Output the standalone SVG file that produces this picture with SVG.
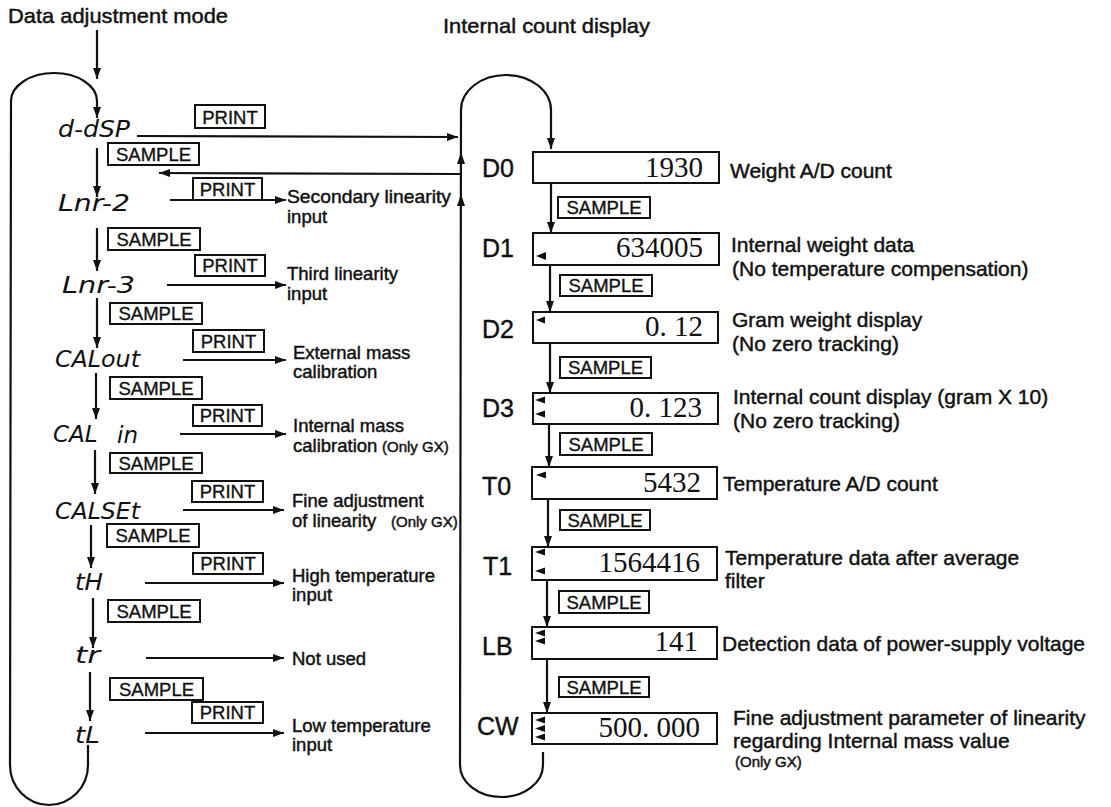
<svg xmlns="http://www.w3.org/2000/svg" width="1111" height="807" viewBox="0 0 1111 807">
<defs>
<style>
.t{font-family:"Liberation Sans",Arial,sans-serif;fill:#111;stroke:#111;stroke-width:0.45}
.ttl{font-size:21px}
.ld{font-size:18.5px}
.rd{font-size:21px}
.sm{font-size:15px}
.seg{font-family:"DejaVu Sans",sans-serif;font-style:italic;font-size:23px;fill:#111}
.lbl{font-family:"Liberation Sans",Arial,sans-serif;font-size:25px;fill:#111;stroke:#111;stroke-width:0.4}
.num{font-family:"Liberation Serif","Times New Roman",serif;font-size:29px;fill:#111;text-anchor:end}
.key{font-family:"Liberation Sans",Arial,sans-serif;font-size:18.5px;fill:#111;stroke:#111;stroke-width:0.35;text-anchor:middle}
.kb{fill:#fff;stroke:#111;stroke-width:2}
.db{fill:#fff;stroke:#111;stroke-width:2}
.ln{fill:none;stroke:#111;stroke-width:2.2}
.ind{fill:#111}
</style>
<marker id="ah" viewBox="0 0 11 8" refX="11" refY="4" markerWidth="11" markerHeight="8" markerUnits="userSpaceOnUse" orient="auto">
<path d="M0,0 L11,4 L0,8 z" fill="#111"/>
</marker>
</defs>
<rect width="1111" height="807" fill="#fff"/>

<!-- titles -->
<text id="title-left" class="t ttl" x="8" y="23" textLength="220" lengthAdjust="spacingAndGlyphs">Data adjustment mode</text>
<text id="title-right" class="t ttl" x="443" y="33" textLength="207" lengthAdjust="spacingAndGlyphs">Internal count display</text>

<!-- connectors -->
<g id="connectors">
<line class="ln" x1="97" y1="30" x2="97" y2="79" marker-end="url(#ah)"/>
<path class="ln" d="M88,745 L88,765 A39,40 0 0 1 10,765 L11,101 A43,28 0 0 1 97,101 L97,118" marker-end="url(#ah)"/>
<line class="ln" x1="97" y1="148" x2="97" y2="197" marker-end="url(#ah)"/>
<line class="ln" x1="97" y1="228" x2="97" y2="271" marker-end="url(#ah)"/>
<line class="ln" x1="97" y1="298" x2="97" y2="348" marker-end="url(#ah)"/>
<line class="ln" x1="96" y1="373" x2="96" y2="419" marker-end="url(#ah)"/>
<line class="ln" x1="95" y1="450" x2="95" y2="494" marker-end="url(#ah)"/>
<line class="ln" x1="91" y1="525" x2="91" y2="568" marker-end="url(#ah)"/>
<line class="ln" x1="93" y1="598" x2="93" y2="648" marker-end="url(#ah)"/>
<line class="ln" x1="90" y1="672" x2="90" y2="721" marker-end="url(#ah)"/>
<line class="ln" x1="137" y1="136" x2="458" y2="137" marker-end="url(#ah)"/>
<line class="ln" x1="461" y1="174" x2="159" y2="173" marker-end="url(#ah)"/>
<line class="ln" x1="170" y1="200" x2="286" y2="200" marker-end="url(#ah)"/>
<line class="ln" x1="167" y1="285" x2="286" y2="285" marker-end="url(#ah)"/>
<line class="ln" x1="183" y1="360" x2="286" y2="360" marker-end="url(#ah)"/>
<line class="ln" x1="180" y1="434" x2="286" y2="434" marker-end="url(#ah)"/>
<line class="ln" x1="183" y1="510" x2="284" y2="510" marker-end="url(#ah)"/>
<line class="ln" x1="145" y1="583" x2="284" y2="583" marker-end="url(#ah)"/>
<line class="ln" x1="146" y1="658" x2="284" y2="658" marker-end="url(#ah)"/>
<line class="ln" x1="145" y1="733" x2="284" y2="733" marker-end="url(#ah)"/>
<path class="ln" d="M543,752 L543,765 A41.5,32 0 0 1 460,765 L461,110 A45,35 0 0 1 551,110 L551,149" marker-end="url(#ah)"/>
<polygon class="ind" points="461,152 457,164 465,164"/>
<polygon class="ind" points="461,194 457,206 465,206"/>
<line class="ln" x1="551" y1="183" x2="551" y2="233" marker-end="url(#ah)"/>
<line class="ln" x1="550" y1="265" x2="550" y2="312" marker-end="url(#ah)"/>
<line class="ln" x1="550" y1="343" x2="550" y2="393" marker-end="url(#ah)"/>
<line class="ln" x1="549" y1="424" x2="549" y2="467" marker-end="url(#ah)"/>
<line class="ln" x1="548" y1="499" x2="548" y2="547" marker-end="url(#ah)"/>
<line class="ln" x1="547" y1="580" x2="547" y2="627" marker-end="url(#ah)"/>
<line class="ln" x1="547" y1="659" x2="547" y2="713" marker-end="url(#ah)"/>
</g>

<!-- key labels (PRINT / SAMPLE) -->
<g id="keys-left">
<rect class="kb" x="195" y="105" width="70" height="23"/><text class="key" x="230" y="124">PRINT</text>
<rect class="kb" x="108" y="143" width="91" height="22"/><text class="key" x="153.5" y="161">SAMPLE</text>
<rect class="kb" x="193" y="178" width="69" height="22"/><text class="key" x="227.5" y="196">PRINT</text>
<rect class="kb" x="108" y="228" width="92" height="22"/><text class="key" x="154" y="246">SAMPLE</text>
<rect class="kb" x="195" y="255" width="70" height="21"/><text class="key" x="230" y="272">PRINT</text>
<rect class="kb" x="110" y="303" width="92" height="21"/><text class="key" x="156" y="320">SAMPLE</text>
<rect class="kb" x="193" y="330" width="71" height="22"/><text class="key" x="228.5" y="348">PRINT</text>
<rect class="kb" x="110" y="377" width="92" height="22"/><text class="key" x="156" y="395">SAMPLE</text>
<rect class="kb" x="193" y="405" width="69" height="21"/><text class="key" x="227.5" y="422">PRINT</text>
<rect class="kb" x="110" y="453" width="92" height="20"/><text class="key" x="156" y="469.5">SAMPLE</text>
<rect class="kb" x="192" y="481" width="71" height="21"/><text class="key" x="227.5" y="498">PRINT</text>
<rect class="kb" x="107" y="524" width="92" height="23"/><text class="key" x="153" y="542">SAMPLE</text>
<rect class="kb" x="193" y="553" width="70" height="21"/><text class="key" x="228" y="570">PRINT</text>
<rect class="kb" x="108" y="600" width="92" height="22"/><text class="key" x="154" y="618">SAMPLE</text>
<rect class="kb" x="110" y="678" width="93" height="22"/><text class="key" x="156.5" y="696">SAMPLE</text>
<rect class="kb" x="192" y="702" width="71" height="21"/><text class="key" x="227.5" y="719">PRINT</text>
</g>
<g id="keys-right">
<rect class="kb" x="558" y="197" width="92" height="21"/><text class="key" x="604" y="214">SAMPLE</text>
<rect class="kb" x="560" y="275" width="92" height="21"/><text class="key" x="606" y="292">SAMPLE</text>
<rect class="kb" x="560" y="357" width="91" height="21"/><text class="key" x="605.5" y="374">SAMPLE</text>
<rect class="kb" x="560" y="433" width="92" height="22"/><text class="key" x="606" y="451">SAMPLE</text>
<rect class="kb" x="560" y="510" width="90" height="20"/><text class="key" x="605" y="526.5">SAMPLE</text>
<rect class="kb" x="559" y="591" width="90" height="22"/><text class="key" x="604" y="609">SAMPLE</text>
<rect class="kb" x="559" y="677" width="90" height="20"/><text class="key" x="604" y="693.5">SAMPLE</text>
</g>

<!-- left mode nodes -->
<g id="node-ddsp"><text class="seg" x="58" y="137" textLength="72" lengthAdjust="spacingAndGlyphs">d-dSP</text></g>
<g id="node-lnr2"><text class="seg" x="58" y="211" textLength="72" lengthAdjust="spacingAndGlyphs">Lnr-2</text></g>
<g id="node-lnr3"><text class="seg" x="62" y="293" textLength="73" lengthAdjust="spacingAndGlyphs">Lnr-3</text></g>
<g id="node-calout"><text class="seg" x="55" y="367" textLength="85" lengthAdjust="spacingAndGlyphs">CALout</text></g>
<g id="node-calin"><text class="seg" x="53" y="442">CAL <tspan x="117" y="443">in</tspan></text></g>
<g id="node-calset"><text class="seg" x="55" y="519" textLength="85" lengthAdjust="spacingAndGlyphs">CALSEt</text></g>
<g id="node-th"><text class="seg" x="75" y="590" textLength="28" lengthAdjust="spacingAndGlyphs">tH</text></g>
<g id="node-tr"><text class="seg" x="75" y="663" textLength="25" lengthAdjust="spacingAndGlyphs">tr</text></g>
<g id="node-tl"><text class="seg" x="75" y="743" textLength="25" lengthAdjust="spacingAndGlyphs">tL</text></g>

<!-- left outputs -->
<g id="out-lnr2"><text class="t ld" x="287" y="203" textLength="164" lengthAdjust="spacingAndGlyphs">Secondary linearity</text><text class="t ld" x="287" y="223">input</text></g>
<g id="out-lnr3"><text class="t ld" x="287" y="280">Third linearity</text><text class="t ld" x="287" y="300">input</text></g>
<g id="out-calout"><text class="t ld" x="293" y="359">External mass</text><text class="t ld" x="293" y="378">calibration</text></g>
<g id="out-calin"><text class="t ld" x="293" y="432">Internal mass</text><text class="t ld" x="293" y="452">calibration <tspan class="sm" x="382">(Only GX)</tspan></text></g>
<g id="out-calset"><text class="t ld" x="292" y="507">Fine adjustment</text><text class="t ld" x="292" y="527">of linearity <tspan class="sm" x="391">(Only GX)</tspan></text></g>
<g id="out-th"><text class="t ld" x="292" y="582">High temperature</text><text class="t ld" x="292" y="601">input</text></g>
<g id="out-tr"><text class="t ld" x="292" y="665">Not used</text></g>
<g id="out-tl"><text class="t ld" x="292" y="732">Low temperature</text><text class="t ld" x="292" y="751">input</text></g>

<!-- right display nodes -->
<g id="node-d0">
<text class="lbl" x="482" y="177">D0</text>
<rect class="db" x="533" y="152" width="186" height="31"/>
<text class="num" x="703" y="177">1930</text>
<text class="t rd" x="730" y="178">Weight A/D count</text>
</g>
<g id="node-d1">
<text class="lbl" x="482" y="257">D1</text>
<rect class="db" x="533" y="233" width="186" height="32"/>
<polygon class="ind" points="536,256 546,252 546,260"/>
<text class="num" x="703" y="257">634005</text>
<text class="t rd" x="731" y="252">Internal weight data</text>
<text class="t rd" x="732" y="276">(No temperature compensation)</text>
</g>
<g id="node-d2">
<text class="lbl" x="482" y="338">D2</text>
<rect class="db" x="533" y="312" width="185" height="31"/>
<polygon class="ind" points="536,320 545,316.5 545,323.5"/>
<text class="num" x="703" y="336">0. 12</text>
<text class="t rd" x="732" y="327">Gram weight display</text>
<text class="t rd" x="732" y="351">(No zero tracking)</text>
</g>
<g id="node-d3">
<text class="lbl" x="482" y="417">D3</text>
<rect class="db" x="533" y="393" width="185" height="31"/>
<polygon class="ind" points="535,400 545,396.5 545,403.5"/>
<polygon class="ind" points="535,414 545,410.5 545,417.5"/>
<text class="num" x="702" y="417">0. 123</text>
<text class="t rd" x="733" y="404">Internal count display (gram X 10)</text>
<text class="t rd" x="733" y="428">(No zero tracking)</text>
</g>
<g id="node-t0">
<text class="lbl" x="482" y="495">T0</text>
<rect class="db" x="532" y="467" width="185" height="32"/>
<polygon class="ind" points="536,475 546,471.5 546,478.5"/>
<text class="num" x="701" y="492">5432</text>
<text class="t rd" x="723" y="491">Temperature A/D count</text>
</g>
<g id="node-t1">
<text class="lbl" x="483" y="575">T1</text>
<rect class="db" x="532" y="547" width="185" height="33"/>
<polygon class="ind" points="535,552 545,548.5 545,555.5"/>
<polygon class="ind" points="535,571 545,567.5 545,574.5"/>
<text class="num" x="700" y="572">1564416</text>
<text class="t rd" x="725" y="565">Temperature data after average</text>
<text class="t rd" x="725" y="588">filter</text>
</g>
<g id="node-lb">
<text class="lbl" x="482" y="655">LB</text>
<rect class="db" x="532" y="627" width="185" height="32"/>
<polygon class="ind" points="535,633 545,629.5 545,636.5"/>
<polygon class="ind" points="535,641 545,637.5 545,644.5"/>
<text class="num" x="698" y="651">141</text>
<text class="t rd" x="722" y="651">Detection data of power-supply voltage</text>
</g>
<g id="node-cw">
<text class="lbl" x="477" y="735">CW</text>
<rect class="db" x="532" y="713" width="185" height="31"/>
<polygon class="ind" points="535,720 545,716.5 545,723.5"/>
<polygon class="ind" points="535,728.5 545,725 545,732"/>
<polygon class="ind" points="535,737 545,733.5 545,740.5"/>
<text class="num" x="700" y="737">500. 000</text>
<text class="t rd" x="733" y="725">Fine adjustment parameter of linearity</text>
<text class="t rd" x="733" y="748">regarding Internal mass value</text>
<text class="t sm" x="735" y="767">(Only GX)</text>
</g>
</svg>
